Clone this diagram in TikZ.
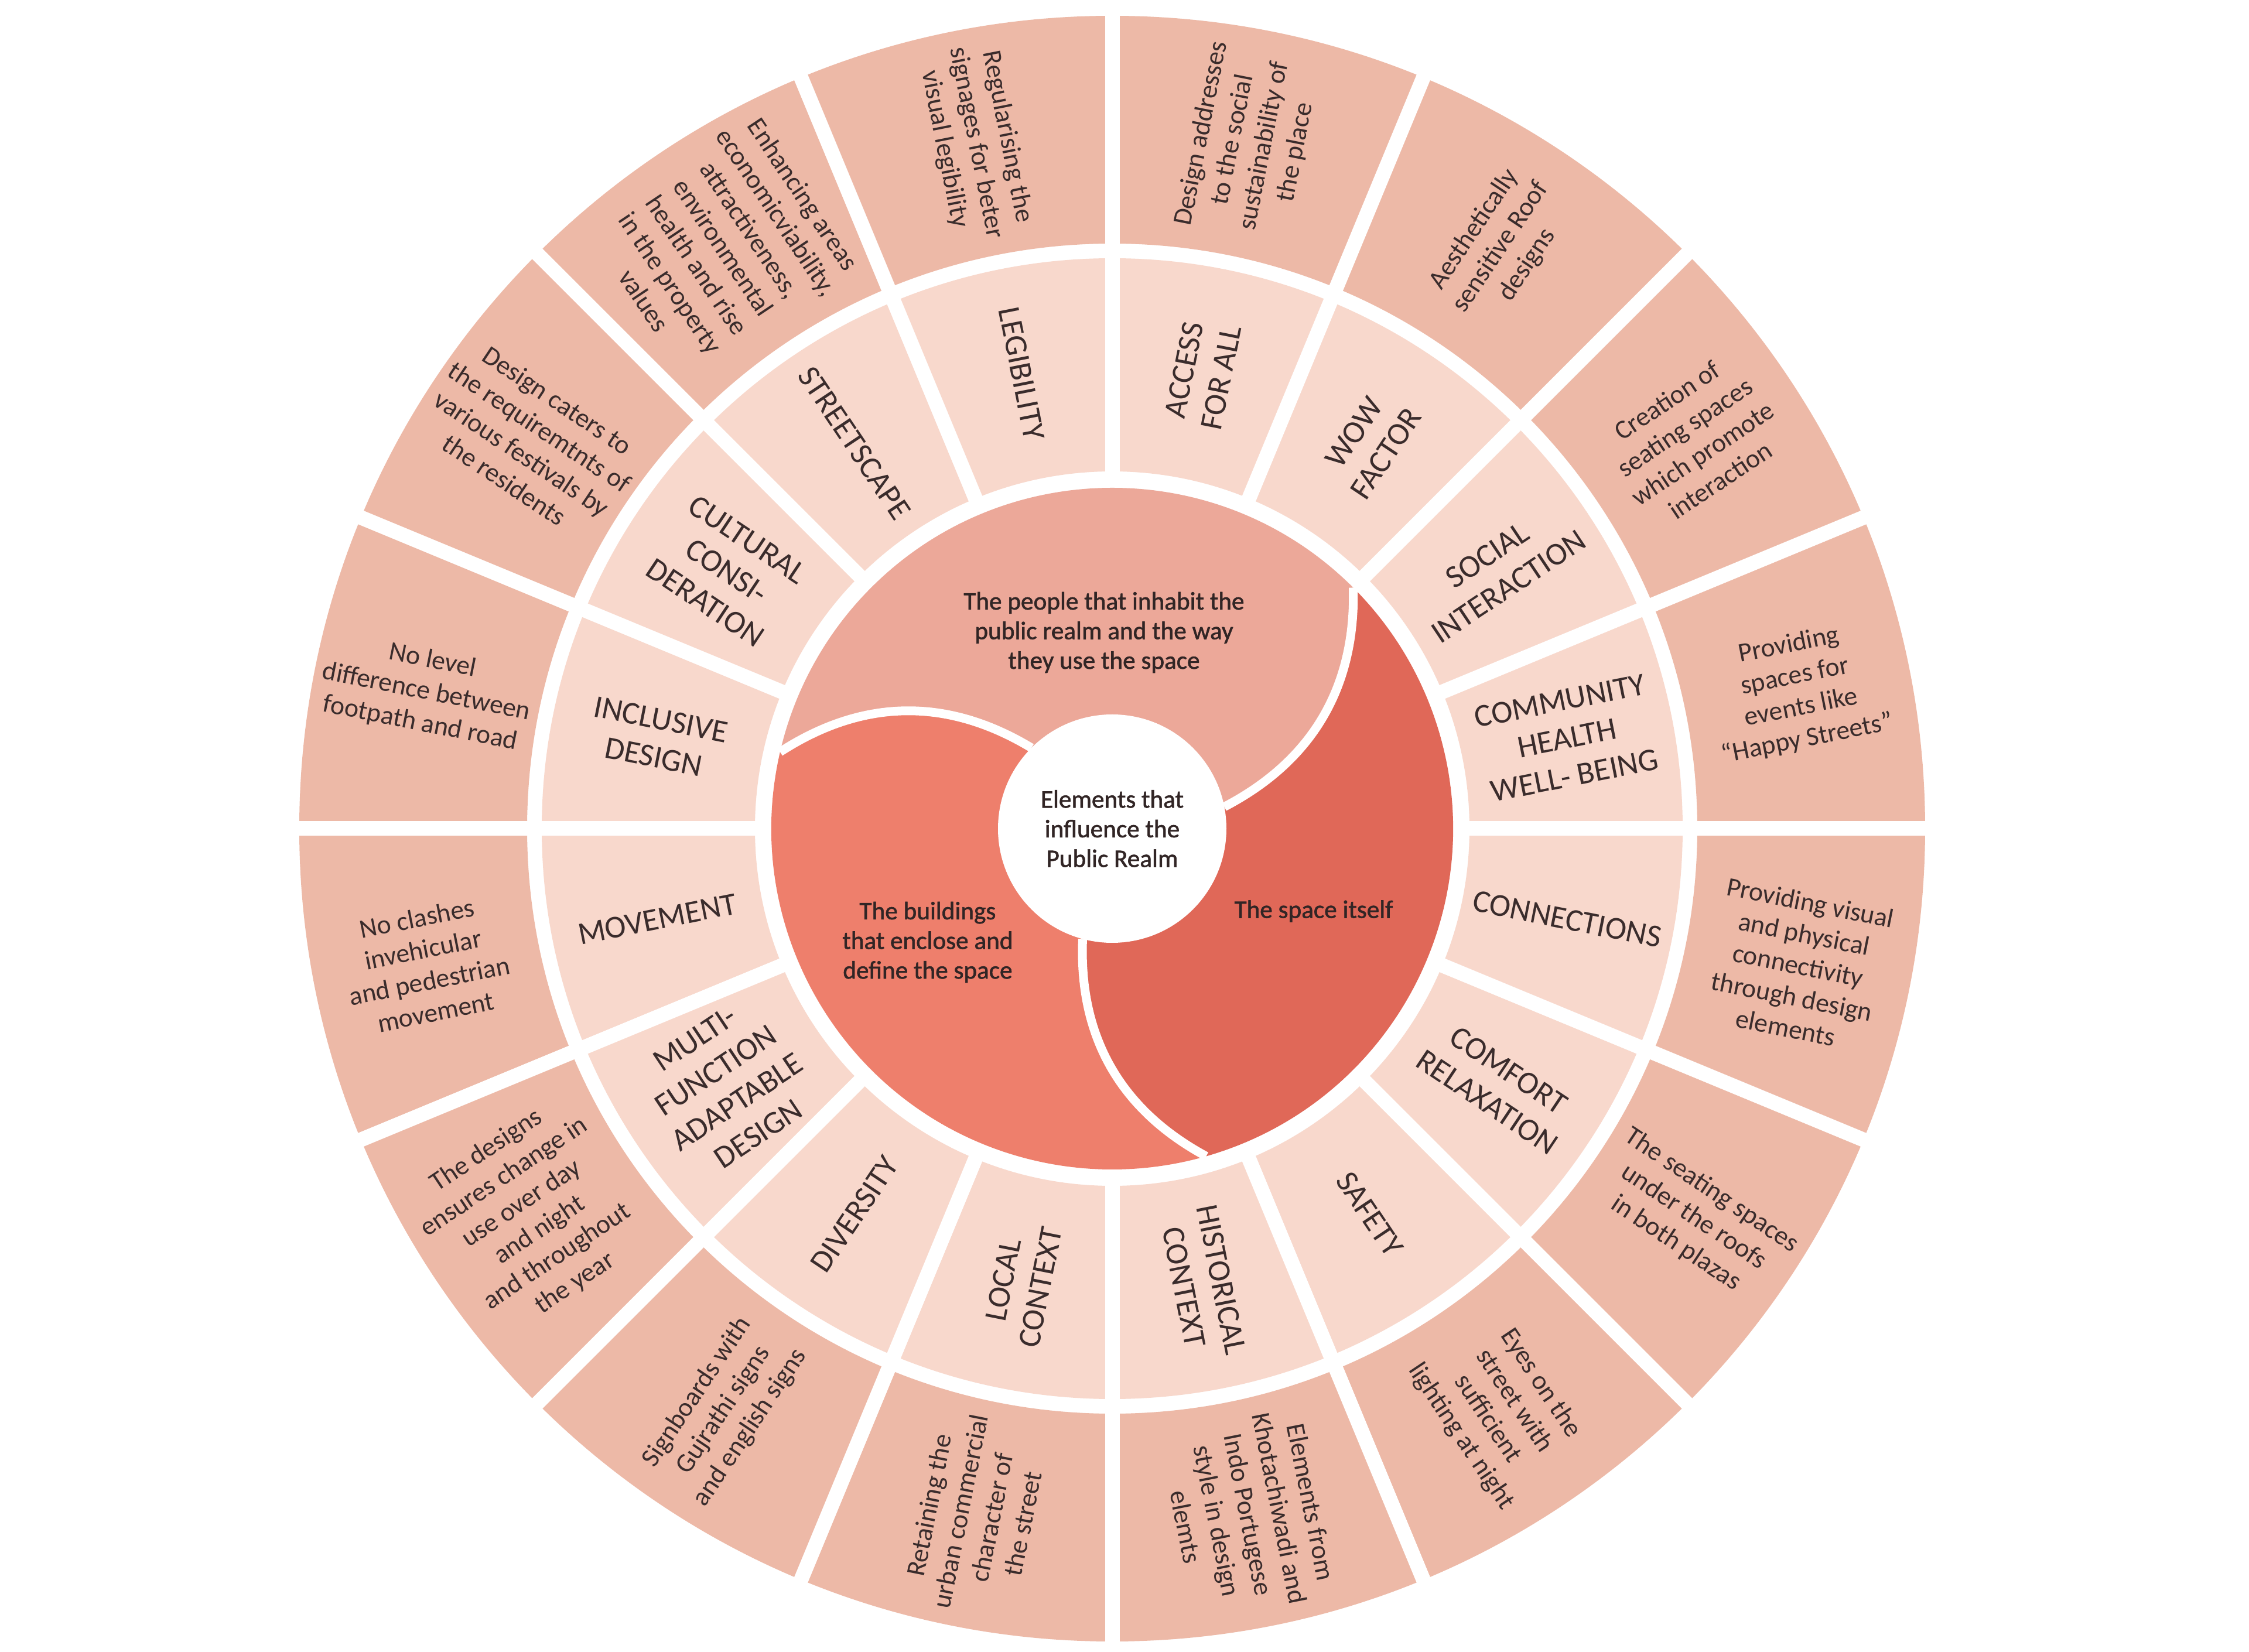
\documentclass[tikz,border=0pt]{standalone}
\usepackage{fontspec}
\setmainfont{Carlito}
\newfontfamily\corefont[FakeBold=1.4]{Carlito}
\usepackage{tikz}
\definecolor{outerring}{HTML}{EDB9A7}
\definecolor{innerring}{HTML}{F8D8CC}
\definecolor{people}{HTML}{ECA899}
\definecolor{buildings}{HTML}{EE7F6C}
\definecolor{spacearea}{HTML}{E06858}
\definecolor{ink}{HTML}{3A2C2C}
\tikzset{
  gapline/.style={white,line width=2.5mm},
  swirl/.style={white,line width=1.5mm},
  notetext/.style={text=ink,align=center,inner sep=0pt,font=\fontsize{13}{15.5}\selectfont},
  ringtext/.style={text=ink,align=center,inner sep=0pt,font=\fontsize{15.5}{18.5}\selectfont},
  coretext/.style={text=ink!85!black,align=center,inner sep=0pt,font=\corefont\fontsize{12.3}{14.4}\selectfont}
}

\begin{document}
\begin{tikzpicture}
\useasboundingbox[fill=white] (-18.99,-14.06) rectangle (19.41,14.15);

\fill[outerring,even odd rule] (0,0) circle[radius=13.88] circle[radius=9.99];
\fill[innerring,even odd rule] (0,0) circle[radius=9.74] circle[radius=6.10];
\foreach \k [evaluate=\k as \ang using \k*22.5] in {0,...,15}
  \draw[gapline] (\ang:6) -- (\ang:14.2);

\foreach \a/\lbl/\txt [count=\i] in {
  101.25/{LEGIBILITY}/{Regularising the\\signages for beter\\visual legibility},
  78.75/{ACCESS\\FOR ALL}/{Design addresses\\to the social\\sustainability of\\the place},
  56.25/{WOW\\FACTOR}/{Aesthetically\\sensitive Roof\\designs},
  33.75/{SOCIAL\\INTERACTION}/{Creation of\\seating spaces\\which promote\\interaction},
  11.25/{COMMUNITY\\HEALTH\\WELL- BEING}/{Providing\\spaces for\\events like\\“Happy Streets”},
  -11.25/{CONNECTIONS}/{Providing visual\\and physical\\connectivity\\through design\\elements},
  -33.75/{COMFORT\\RELAXATION}/{The seating spaces\\under the roofs\\in both plazas},
  -56.25/{SAFETY}/{Eyes on the\\street with\\sufficient\\lighting at night},
  -78.75/{HISTORICAL\\CONTEXT}/{Elements from\\Khotachiwadi and\\Indo Portugese\\style in design\\elemts},
  -101.25/{LOCAL\\CONTEXT}/{Retaining the\\urban commercial\\character of\\the street},
  -123.75/{DIVERSITY}/{Signboards with\\Gujrathi signs\\and english signs},
  -146.25/{MULTI-\\FUNCTION\\ADAPTABLE\\DESIGN}/{The designs\\ensures change in\\use over day\\and night\\and throughout\\the year},
  -168.75/{MOVEMENT}/{No clashes\\invehicular\\and pedestrian\\movement},
  168.75/{INCLUSIVE\\DESIGN}/{No level\\difference between\\footpath and road},
  146.25/{CULTURAL\\CONSI-\\DERATION}/{Design caters to\\the requiremtnts of\\various festivals by\\the residents},
  123.75/{STREETSCAPE}/{Enhancing areas\\economicviability,\\attractiveness,\\environmental\\health and rise\\in the property\\values}}{
  \pgfmathsetmacro\rot{cos(\a)>0 ? \a : \a+180}
  \node[ringtext,rotate=\rot] (ring\i) at (\a:7.92) {\lbl};
  \node[notetext,rotate=\rot] (note\i) at (\a:11.94) {\txt};
}

\coordinate (b1) at (135:1.95);
\coordinate (a1) at (167:5.82);
\coordinate (b2) at (11:1.95);
\coordinate (a2) at (45:5.82);
\coordinate (b3) at (255:1.95);
\coordinate (a3) at (286:5.82);

\fill[people] (b2) to[bend right=32] (a2) arc[start angle=45,end angle=167,radius=5.82] to[bend left=32] (b1) -- (0,0) -- cycle;
\fill[buildings] (b1) to[bend right=32] (a1) arc[start angle=167,end angle=286,radius=5.82] to[bend left=32] (b3) -- (0,0) -- cycle;
\fill[spacearea] (b3) to[bend right=32] (a3) arc[start angle=-74,end angle=45,radius=5.82] to[bend left=32] (b2) -- (0,0) -- cycle;
\draw[swirl] (b1) to[bend right=32] (a1);
\draw[swirl] (b2) to[bend right=32] (a2);
\draw[swirl] (b3) to[bend right=32] (a3);
\fill[white] (0,0) circle[radius=1.95];

\node[coretext] (core) at (0,0) {Elements that\\influence the\\Public Realm};
\node[coretext] (peopletext) at (-0.14,3.35) {The people that inhabit the\\public realm and the way\\they use the space};
\node[coretext] (buildingstext) at (-3.15,-1.94) {The buildings\\that enclose and\\define the space};
\node[coretext] (spacetext) at (3.44,-1.41) {The space itself};
\end{tikzpicture}
\end{document}
